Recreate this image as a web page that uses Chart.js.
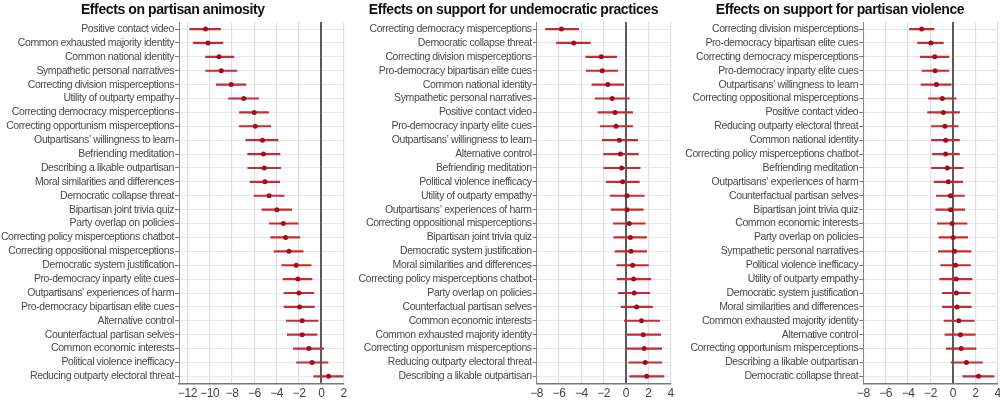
<!DOCTYPE html>
<html lang="en">
<head>
    <meta charset="UTF-8">
    <title>Effects of interventions</title>
    <script src="https://cdn.jsdelivr.net/npm/chart.js"></script>
    <style>
        body { margin: 0; width: 1000px; height: 400px; overflow: hidden; background: #fff; position: relative; }
        canvas { position: absolute; top: 0; }
    </style>
</head>
<body>
    <canvas id="animosityChart" width="350" height="400" style="left:0px"></canvas>
    <canvas id="undemChart" width="322" height="400" style="left:355px"></canvas>
    <canvas id="violenceChart" width="323" height="400" style="left:681px"></canvas>
    <script>
        // Panel 1: partisan animosity
        const animosityLabels = [
            'Positive contact video', 'Common exhausted majority identity', 'Common national identity',
            'Sympathetic personal narratives', 'Correcting division misperceptions', 'Utility of outparty empathy',
            'Correcting democracy misperceptions', 'Correcting opportunism misperceptions',
            'Outpartisans\u2019 willingness to learn', 'Befriending meditation', 'Describing a likable outpartisan',
            'Moral similarities and differences', 'Democratic collapse threat', 'Bipartisan joint trivia quiz',
            'Party overlap on policies', 'Correcting policy misperceptions chatbot',
            'Correcting oppositional misperceptions', 'Democratic system justification',
            'Pro-democracy inparty elite cues', 'Outpartisans\u2019 experiences of harm',
            'Pro-democracy bipartisan elite cues', 'Alternative control', 'Counterfactual partisan selves',
            'Common economic interests', 'Political violence inefficacy', 'Reducing outparty electoral threat'
        ];
        const animosityEst = [-10.38, -10.15, -9.17, -8.96, -8.08, -6.95, -6.01, -5.92, -5.27, -5.18, -5.12, -5.06, -4.67,
            -3.99, -3.40, -3.20, -2.90, -2.25, -2.10, -2.01, -1.95, -1.72, -1.72, -1.12, -0.83, 0.65];
        const animosityLow = [-11.78, -11.48, -10.38, -10.36, -9.41, -8.31, -7.34, -7.34, -6.75, -6.60, -6.60, -6.39, -6.01,
            -5.33, -4.67, -4.53, -4.23, -3.55, -3.43, -3.34, -3.34, -3.14, -3.05, -2.51, -2.22, -0.68];
        const animosityHigh = [-9.02, -8.82, -7.84, -7.57, -6.75, -5.62, -4.73, -4.53, -3.88, -3.70, -3.64, -3.73, -3.34,
            -2.66, -2.07, -1.92, -1.63, -0.92, -0.83, -0.68, -0.62, -0.30, -0.38, 0.21, 0.59, 1.98];
        const animosityTicks = [-12, -10, -8, -6, -4, -2, 0, 2];

        // Panel 2: support for undemocratic practices
        const undemLabels = [
            'Correcting democracy misperceptions', 'Democratic collapse threat', 'Correcting division misperceptions',
            'Pro-democracy bipartisan elite cues', 'Common national identity', 'Sympathetic personal narratives',
            'Positive contact video', 'Pro-democracy inparty elite cues', 'Outpartisans\u2019 willingness to learn',
            'Alternative control', 'Befriending meditation', 'Political violence inefficacy',
            'Utility of outparty empathy', 'Outpartisans\u2019 experiences of harm',
            'Correcting oppositional misperceptions', 'Bipartisan joint trivia quiz',
            'Democratic system justification', 'Moral similarities and differences',
            'Correcting policy misperceptions chatbot', 'Party overlap on policies',
            'Counterfactual partisan selves', 'Common economic interests', 'Common exhausted majority identity',
            'Correcting opportunism misperceptions', 'Reducing outparty electoral threat',
            'Describing a likable outpartisan'
        ];
        const undemEst = [-5.78, -4.68, -2.22, -2.13, -1.63, -1.24, -0.98, -0.89, -0.59, -0.50, -0.39, -0.30, 0.09,
            0.09, 0.30, 0.39, 0.44, 0.59, 0.68, 0.74, 0.95, 1.39, 1.54, 1.63, 1.72, 1.85];
        const undemLow = [-7.20, -6.22, -3.61, -3.56, -3.05, -2.76, -2.52, -2.31, -2.13, -1.99, -1.99, -1.78, -1.42,
            -1.33, -1.13, -1.10, -0.98, -0.83, -0.80, -0.68, -0.44, -0.15, 0.06, 0.06, 0.24, 0.33];
        const undemHigh = [-4.24, -3.20, -0.83, -0.74, -0.21, 0.30, 0.59, 0.59, 1.04, 1.10, 1.27, 1.19, 1.63,
            1.54, 1.72, 1.84, 1.84, 2.01, 2.22, 2.13, 2.37, 3.02, 3.11, 3.20, 3.20, 3.40];

        // Panel 3: support for partisan violence
        const violenceLabels = [
            'Correcting division misperceptions', 'Pro-democracy bipartisan elite cues',
            'Correcting democracy misperceptions', 'Pro-democracy inparty elite cues',
            'Outpartisans\u2019 willingness to learn', 'Correcting oppositional misperceptions',
            'Positive contact video', 'Reducing outparty electoral threat', 'Common national identity',
            'Correcting policy misperceptions chatbot', 'Befriending meditation',
            'Outpartisans\u2019 experiences of harm', 'Counterfactual partisan selves',
            'Bipartisan joint trivia quiz', 'Common economic interests', 'Party overlap on policies',
            'Sympathetic personal narratives', 'Political violence inefficacy', 'Utility of outparty empathy',
            'Democratic system justification', 'Moral similarities and differences',
            'Common exhausted majority identity', 'Alternative control', 'Correcting opportunism misperceptions',
            'Describing a likable outpartisan', 'Democratic collapse threat'
        ];
        const violenceEst = [-2.79, -1.97, -1.62, -1.59, -1.47, -0.94, -0.85, -0.71, -0.65, -0.65, -0.50, -0.41, -0.21,
            -0.21, -0.06, 0.03, 0.15, 0.24, 0.29, 0.32, 0.38, 0.53, 0.68, 0.74, 1.21, 2.29];
        const violenceLow = [-3.88, -3.15, -2.91, -2.76, -2.85, -2.18, -2.26, -1.91, -1.91, -1.82, -1.91, -1.68, -1.47,
            -1.53, -1.38, -1.24, -1.29, -1.09, -1.18, -0.94, -0.94, -0.79, -0.71, -0.59, -0.15, 0.88];
        const violenceHigh = [-1.68, -0.85, -0.35, -0.35, -0.15, 0.29, 0.59, 0.47, 0.59, 0.59, 0.91, 0.88, 1.03,
            1.06, 1.26, 1.32, 1.62, 1.56, 1.71, 1.56, 1.65, 1.91, 2.00, 2.06, 2.65, 3.68];

        const smallTicks = [-8, -6, -4, -2, 0, 2, 4];

        const FONT = "'Liberation Sans', Arial, sans-serif";
        const RED_LINE = '#c62a33';
        const RED_DOT = '#a30e1b';

        // the reference uses a condensed face; tighten the letters instead
        const condensePlugin = {
            id: 'condense',
            beforeDraw: chart => { chart.ctx.letterSpacing = '-0.4px'; }
        };

        function makePanel(id, title, labels, est, low, high, ticks, xMin, xMax, yWidth, padRight) {
            const ctx = document.getElementById(id).getContext('2d');
            new Chart(ctx, {
                type: 'bar',
                plugins: [condensePlugin],
                data: {
                    labels: labels,
                    datasets: [
                        {
                            type: 'line',
                            indexAxis: 'y',
                            data: est,
                            showLine: false,
                            pointRadius: 2.5,
                            pointBorderWidth: 0,
                            pointBackgroundColor: RED_DOT,
                            order: 0
                        },
                        {
                            type: 'bar',
                            indexAxis: 'y',
                            data: labels.map((_, i) => [low[i], high[i]]),
                            backgroundColor: RED_LINE,
                            barThickness: 1.5,
                            order: 1
                        }
                    ]
                },
                options: {
                    indexAxis: 'y',
                    responsive: false,
                    animation: false,
                    layout: { padding: { left: 0, right: padRight, top: 0, bottom: 0 } },
                    plugins: {
                        legend: { display: false },
                        tooltip: { enabled: false },
                        title: {
                            display: true,
                            text: title,
                            color: '#111',
                            font: { family: FONT, size: 14, weight: 'bold' },
                            padding: { top: 2, bottom: 3.3 }
                        }
                    },
                    scales: {
                        x: {
                            type: 'linear',
                            min: xMin,
                            max: xMax,
                            afterBuildTicks: s => { s.ticks = ticks.map(v => ({ value: v })); },
                            afterFit: s => { s.height = 16.7; },
                            grid: {
                                z: -1,
                                color: c => (c.tick && c.tick.value === 0) ? '#5a5a5a' : '#e0e0e0',
                                lineWidth: c => (c.tick && c.tick.value === 0) ? 2 : 1.2,
                                drawTicks: false
                            },
                            border: { color: '#777', width: 1.5 },
                            ticks: {
                                font: { family: FONT, size: 12 },
                                color: '#444',
                                padding: 3,
                                maxRotation: 0,
                                autoSkip: false,
                                callback: v => (v < 0 ? '\u2212' + Math.abs(v) : String(v))
                            }
                        },
                        y: {
                            type: 'category',
                            offset: true,
                            afterFit: s => { s.width = yWidth; },
                            grid: { z: -3, offset: false, color: '#e8e8e8', lineWidth: 1, tickLength: 4, tickColor: '#777' },
                            border: { color: '#888', width: 1 },
                            ticks: {
                                autoSkip: false,
                                font: { family: FONT, size: 10.5 },
                                color: '#4a4a4a',
                                padding: 1
                            }
                        }
                    }
                }
            });
        }

        makePanel('animosityChart', 'Effects on partisan animosity', animosityLabels,
            animosityEst, animosityLow, animosityHigh, animosityTicks, -12.75, 2, 179, 4.5);
        makePanel('undemChart', 'Effects on support for undemocratic practices', undemLabels,
            undemEst, undemLow, undemHigh, smallTicks, -8, 4, 181.7, 5);
        makePanel('violenceChart', 'Effects on support for partisan violence', violenceLabels,
            violenceEst, violenceLow, violenceHigh, smallTicks, -8, 4, 182.3, 5);
    </script>
</body>
</html>
